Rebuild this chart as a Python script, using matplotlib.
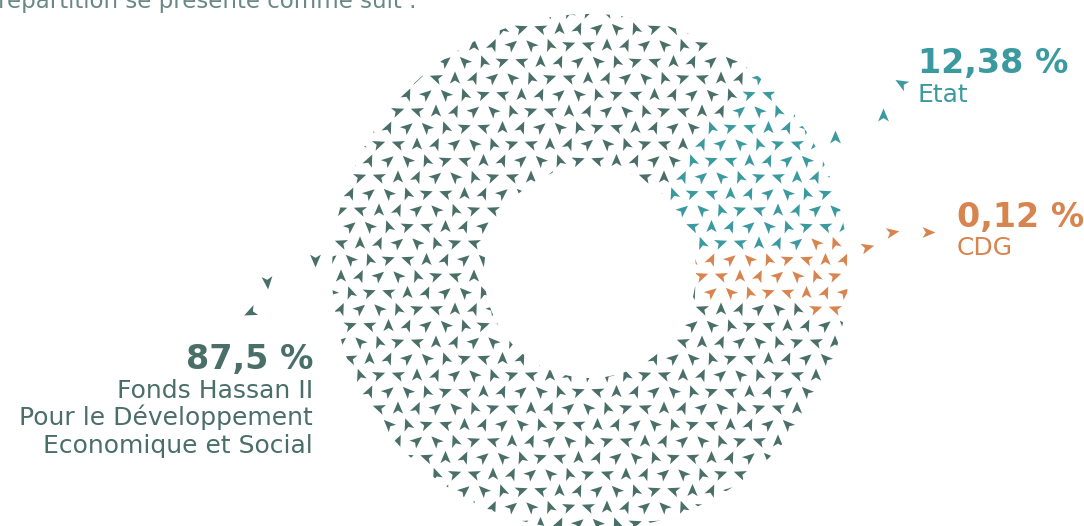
import numpy as np
import matplotlib.pyplot as plt
from matplotlib.path import Path
from matplotlib.markers import MarkerStyle
from matplotlib.transforms import Affine2D
from matplotlib.patches import Wedge

# shares of the capital
labels = ["Etat", "CDG", "Fonds Hassan II\nPour le Développement\nEconomique et Social"]
pct_text = ["12,38 %", "0,12 %", "87,5 %"]
values = [12.38, 0.12, 87.5]
colors = ["#3b9aa0", "#d8844f", "#4a6e68"]

# the tiny CDG slice is drawn wider so it can be seen, like in the original
shown = np.maximum(values, 5.0)

W, H = 1084, 526
fig = plt.figure(figsize=(W / 100, H / 100), dpi=100)
ax = fig.add_axes([0, 0, 1, 1])

cx, cy = 590, H - 272
r_out, r_in = 258, 106

wedges, _ = ax.pie(shown, center=(cx, cy), radius=r_out, startangle=50,
                   counterclock=False,
                   wedgeprops=dict(width=r_out - r_in, facecolor="none", edgecolor="none"))

ax.set_xlim(0, W)
ax.set_ylim(0, H)
ax.set_aspect("equal")
ax.axis("off")

# ring used to clip the arrow texture
ring = Wedge((cx, cy), r_out, 0, 360, width=r_out - r_in, facecolor="none", edgecolor="none")
ax.add_patch(ring)

# arrow head marker (navigation style)
arrow = Path([(0, 1), (0.78, -0.85), (0, -0.38), (-0.78, -0.85), (0, 1)],
             [Path.MOVETO, Path.LINETO, Path.LINETO, Path.LINETO, Path.CLOSEPOLY])
rots = [0, -70, 45, -25, 70, 20, -50]


def wedge_color(x, y):
    ang = np.degrees(np.arctan2(y - cy, x - cx)) % 360
    for w, c in zip(wedges, colors):
        t1, t2 = w.theta1 % 360, w.theta2 % 360
        if t1 <= t2:
            inside = t1 <= ang < t2
        else:
            inside = ang >= t1 or ang < t2
        if inside:
            return c
    return colors[-1]


# texture of arrows filling the ring
dx, dy = 19, 16.5
pts = {a: ([], [], []) for a in rots}
for j, yy in enumerate(np.arange(cy - r_out - 10, cy + r_out + 10, dy)):
    off = (j % 2) * dx / 2
    for i, xx in enumerate(np.arange(cx - r_out - 10 + off, cx + r_out + 10, dx)):
        rr = np.hypot(xx - cx, yy - cy)
        if rr < r_in - 8 or rr > r_out + 8:
            continue
        a = rots[(i * 3 + j * 2) % len(rots)]
        pts[a][0].append(xx)
        pts[a][1].append(yy)
        pts[a][2].append(wedge_color(xx, yy))

for a, (xs, ys, cs) in pts.items():
    m = MarkerStyle(arrow, transform=Affine2D().rotate_deg(a))
    sc = ax.scatter(xs, ys, s=90, marker=m, c=cs, linewidths=0)
    sc.set_clip_path(ring)

# little arrows leading to the labels
leaders = [
    ([835, 883, 901], [137, 115, 83], [0, 0, 60], colors[0]),
    ([867, 892, 928], [247, 232, 232], [-75, -80, -90], colors[1]),
    ([315, 267, 250], [260, 282, 312], [180, 185, 115], colors[2]),
]
for xs, ys, angs, c in leaders:
    for xx, yy, a in zip(xs, ys, angs):
        m = MarkerStyle(arrow, transform=Affine2D().rotate_deg(a))
        ax.scatter([xx], [H - yy], s=100, marker=m, color=c, linewidths=0)

bold = dict(fontsize=24, fontweight="bold", family="DejaVu Sans")
light = dict(fontsize=18, fontweight="normal", family="DejaVu Sans")

# Etat
ax.text(918, H - 73, pct_text[0], color=colors[0], ha="left", va="baseline", **bold)
ax.text(918, H - 102, labels[0], color=colors[0], ha="left", va="baseline", **light)
# CDG
ax.text(957, H - 227, pct_text[1], color=colors[1], ha="left", va="baseline", **bold)
ax.text(957, H - 255, labels[1], color=colors[1], ha="left", va="baseline", **light)
# Fonds Hassan II
ax.text(313, H - 369, pct_text[2], color=colors[2], ha="right", va="baseline", **bold)
for k, line in enumerate(labels[2].split("\n")):
    ax.text(313, H - 398 - 27.5 * k, line, color=colors[2], ha="right", va="baseline", **light)

# sentence cut by the top of the picture
ax.text(-2, H - 8, "répartition se présente comme suit :", color="#6a8888",
        ha="left", va="baseline", fontsize=16.5, family="DejaVu Sans")

fig.savefig("out.png", dpi=100)
